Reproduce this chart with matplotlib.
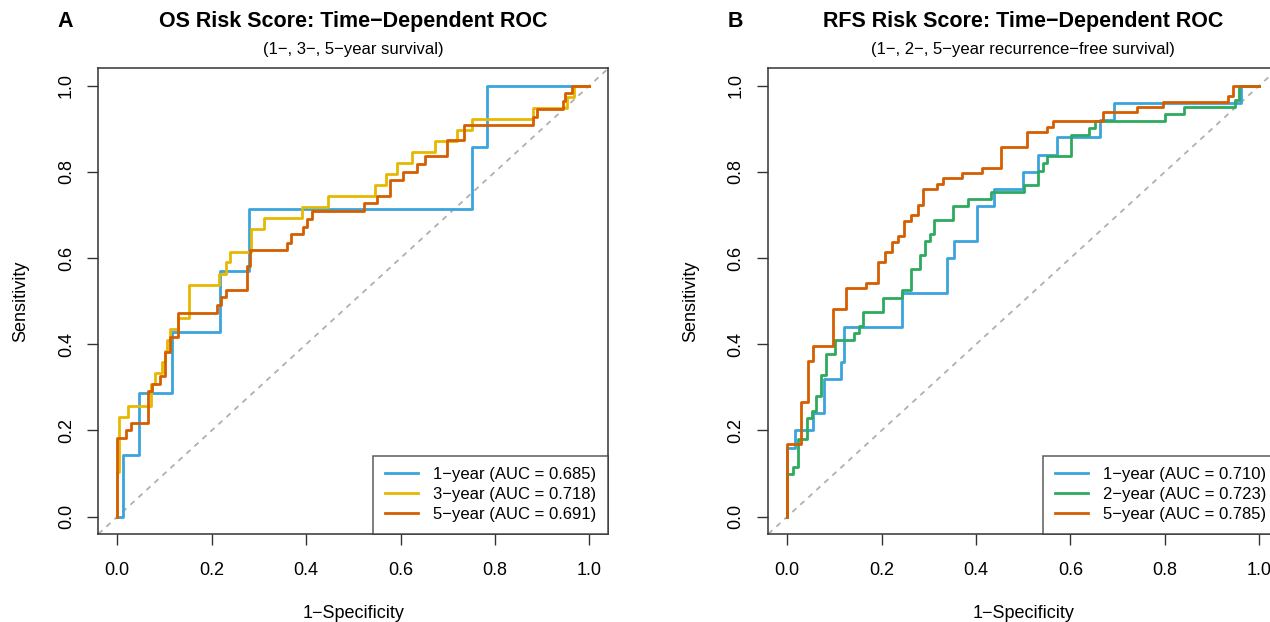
import matplotlib
matplotlib.use("Agg")
import matplotlib.pyplot as plt

plt.rcParams["font.family"] = ["Liberation Sans", "DejaVu Sans"]

# ---- Panel A: OS risk score, time-dependent ROC (step corners: x = 1-spec, y = sens)
os_1y_fpr = [0, 0.013, 0.045, 0.115, 0.218, 0.280, 0.752, 0.783, 1.0]
os_1y_tpr = [0, 0.143, 0.286, 0.429, 0.571, 0.714, 0.857, 1.0, 1.0]

os_3y_fpr = [0, 0, 0.004, 0.023, 0.071, 0.080, 0.094, 0.101, 0.106, 0.112, 0.129,
             0.152, 0.216, 0.230, 0.239, 0.283, 0.310, 0.391, 0.447, 0.545, 0.569,
             0.592, 0.624, 0.673, 0.720, 0.752, 0.880, 0.952, 0.968, 1.0]
os_3y_tpr = [0, 0.103, 0.231, 0.256, 0.308, 0.333, 0.359, 0.385, 0.410, 0.436, 0.462,
             0.538, 0.564, 0.590, 0.615, 0.667, 0.692, 0.718, 0.744, 0.769, 0.795,
             0.821, 0.846, 0.872, 0.897, 0.923, 0.949, 0.974, 1.0, 1.0]

os_5y_fpr = [0, 0, 0.018, 0.028, 0.064, 0.073, 0.091, 0.101, 0.112, 0.129, 0.211,
             0.220, 0.231, 0.274, 0.281, 0.359, 0.367, 0.393, 0.401, 0.412, 0.523,
             0.550, 0.578, 0.606, 0.634, 0.652, 0.698, 0.735, 0.881, 0.889, 0.944,
             0.948, 0.963, 1.0]
os_5y_tpr = [0, 0.182, 0.200, 0.218, 0.291, 0.309, 0.327, 0.382, 0.418, 0.473, 0.491,
             0.509, 0.527, 0.582, 0.618, 0.636, 0.655, 0.673, 0.691, 0.709, 0.727,
             0.745, 0.782, 0.800, 0.818, 0.836, 0.873, 0.909, 0.927, 0.945, 0.964,
             0.982, 1.0, 1.0]

# ---- Panel B: RFS risk score
rfs_1y_fpr = [0, 0, 0.017, 0.054, 0.077, 0.114, 0.121, 0.243, 0.339, 0.354, 0.402,
              0.437, 0.499, 0.532, 0.572, 0.663, 0.692, 0.961, 1.0]
rfs_1y_tpr = [0, 0.16, 0.20, 0.24, 0.32, 0.36, 0.44, 0.52, 0.60, 0.64, 0.72,
              0.76, 0.80, 0.84, 0.88, 0.92, 0.96, 1.0, 1.0]

rfs_2y_fpr = [0, 0, 0.012, 0.022, 0.041, 0.052, 0.061, 0.072, 0.082, 0.101, 0.142,
              0.152, 0.161, 0.202, 0.243, 0.262, 0.281, 0.291, 0.303, 0.311, 0.352,
              0.382, 0.431, 0.502, 0.532, 0.541, 0.550, 0.601, 0.640, 0.653, 0.800,
              0.841, 0.949, 0.958, 1.0]
rfs_2y_tpr = [0, 0.098, 0.115, 0.180, 0.230, 0.246, 0.279, 0.328, 0.377, 0.410, 0.426,
              0.443, 0.475, 0.508, 0.525, 0.574, 0.607, 0.639, 0.656, 0.689, 0.721,
              0.738, 0.754, 0.770, 0.803, 0.820, 0.836, 0.885, 0.902, 0.918, 0.934,
              0.951, 0.967, 1.0, 1.0]

rfs_5y_fpr = [0, 0, 0.029, 0.043, 0.055, 0.098, 0.125, 0.167, 0.193, 0.207, 0.221,
              0.235, 0.248, 0.262, 0.276, 0.288, 0.317, 0.329, 0.371, 0.412, 0.453,
              0.507, 0.550, 0.563, 0.670, 0.741, 0.796, 0.933, 0.945, 1.0]
rfs_5y_tpr = [0, 0.169, 0.265, 0.362, 0.396, 0.482, 0.530, 0.543, 0.592, 0.615, 0.638,
              0.651, 0.686, 0.700, 0.723, 0.760, 0.772, 0.785, 0.797, 0.810, 0.857,
              0.893, 0.905, 0.917, 0.940, 0.951, 0.963, 0.977, 1.0, 1.0]

os_labels = ["1\u2212year (AUC = 0.685)", "3\u2212year (AUC = 0.718)", "5\u2212year (AUC = 0.691)"]
rfs_labels = ["1\u2212year (AUC = 0.710)", "2\u2212year (AUC = 0.723)", "5\u2212year (AUC = 0.785)"]

BLUE = "#3AA5DC"
YELLOW = "#E7B800"
GREEN = "#2EAA5E"
ORANGE = "#D55E00"

ticks = [0.0, 0.2, 0.4, 0.6, 0.8, 1.0]
tick_labels = ["0.0", "0.2", "0.4", "0.6", "0.8", "1.0"]

fig = plt.figure(figsize=(12.7, 6.22), dpi=100)
axA = fig.add_axes([0.0775, 0.1416, 0.4014, 0.7483])
axB = fig.add_axes([0.6050, 0.1416, 0.4014, 0.7483])


def roc_panel(ax, curves, labels, letter, title, subtitle):
    ax.axline((0, 0), (1, 1), color="#B0B0B0", lw=1.3, ls=(0, (3, 3)), zorder=1)
    for (fpr, tpr, col), lab in zip(curves, labels):
        ax.plot(fpr, tpr, drawstyle="steps-post", color=col, lw=2.0, label=lab, zorder=2)
    ax.set_xlim(-0.04, 1.04)
    ax.set_ylim(-0.04, 1.04)
    ax.set_xticks(ticks)
    ax.set_xticklabels(tick_labels)
    ax.set_yticks(ticks)
    ax.set_yticklabels(tick_labels, rotation=90, va="center")
    ax.tick_params(length=8, width=1, labelsize=13, color="#333333")
    ax.tick_params(axis="x", pad=12)
    ax.tick_params(axis="y", pad=9)
    for s in ax.spines.values():
        s.set_linewidth(1.1)
        s.set_color("#333333")
    ax.text(0.5, -0.172, "1\u2212Specificity", transform=ax.transAxes,
            ha="center", va="center", fontsize=13)
    ax.text(-0.152, 0.5, "Sensitivity", transform=ax.transAxes, rotation=90,
            ha="center", va="center", fontsize=13)
    ax.text(0.5, 1.101, title, transform=ax.transAxes, ha="center", va="center",
            fontsize=15.5, fontweight="bold")
    ax.text(0.5, 1.041, subtitle, transform=ax.transAxes, ha="center", va="center",
            fontsize=12)
    ax.text(-0.065, 1.101, letter, transform=ax.transAxes, ha="center", va="center",
            fontsize=15.5, fontweight="bold")
    leg = ax.legend(loc="lower right", fontsize=12, frameon=True, fancybox=False,
                    borderaxespad=0, handlelength=2.0, handletextpad=0.9,
                    labelspacing=0.3, borderpad=0.7)
    leg.get_frame().set_edgecolor("#333333")
    leg.get_frame().set_linewidth(1.1)


roc_panel(axA,
          [(os_1y_fpr, os_1y_tpr, BLUE), (os_3y_fpr, os_3y_tpr, YELLOW),
           (os_5y_fpr, os_5y_tpr, ORANGE)],
          os_labels, "A", "OS Risk Score: Time\u2212Dependent ROC",
          "(1\u2212, 3\u2212, 5\u2212year survival)")
roc_panel(axB,
          [(rfs_1y_fpr, rfs_1y_tpr, BLUE), (rfs_2y_fpr, rfs_2y_tpr, GREEN),
           (rfs_5y_fpr, rfs_5y_tpr, ORANGE)],
          rfs_labels, "B", "RFS Risk Score: Time\u2212Dependent ROC",
          "(1\u2212, 2\u2212, 5\u2212year recurrence\u2212free survival)")

fig.savefig("out.png", dpi=100)
